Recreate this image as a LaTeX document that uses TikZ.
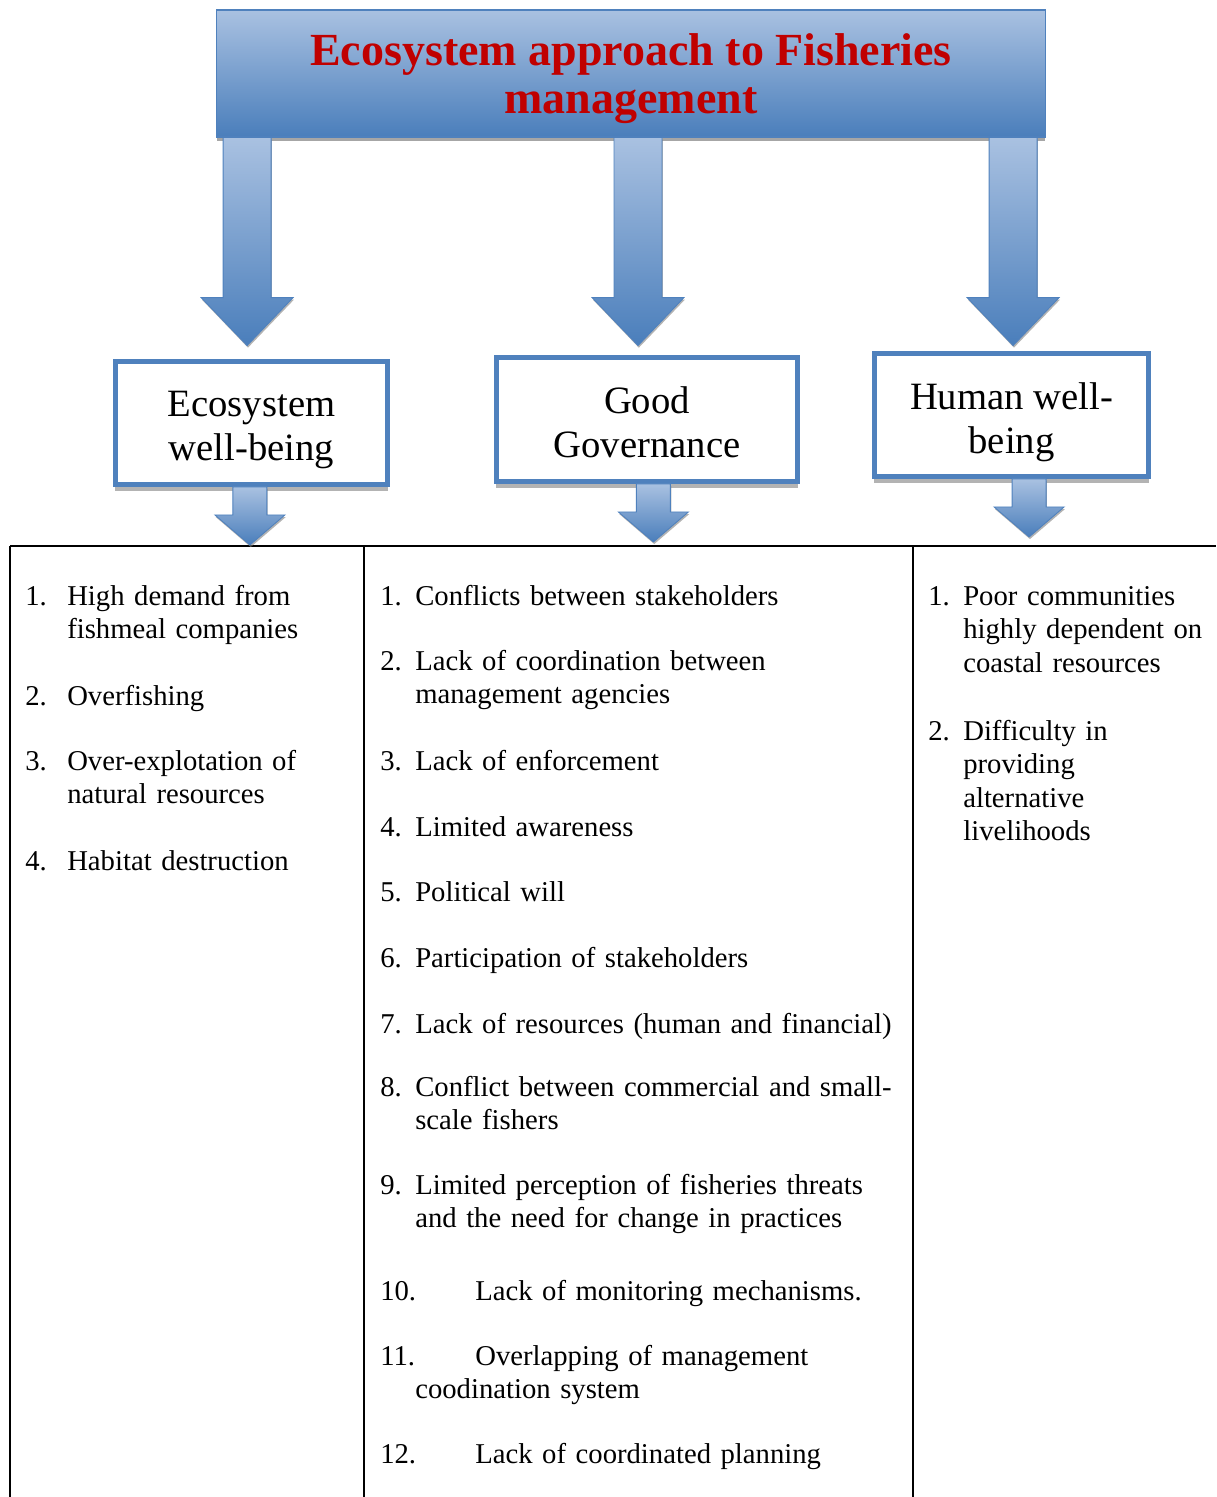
\documentclass[tikz,border=0pt]{standalone}
\usepackage{fontspec}
\setmainfont{Liberation Serif}
\usetikzlibrary{shadows}
\usetikzlibrary{positioning}
\definecolor{boxblue}{RGB}{79,129,189}
\definecolor{lightblue}{RGB}{169,193,225}
\definecolor{darkblue}{RGB}{74,126,187}
\definecolor{titlered}{RGB}{192,0,0}
\tikzset{
  titlebox/.style={rectangle, draw=boxblue, line width=0.8pt, top color=lightblue, bottom color=darkblue, minimum width=20.7cm, minimum height=3.175cm, align=center, text=titlered, font=\bfseries\fontsize{32.7}{34.7}\selectfont, drop shadow={shadow xshift=0pt, shadow yshift=-2.5pt, fill=black!50, opacity=.7}},
  headbox/.style={rectangle, draw=boxblue, line width=3.5pt, fill=white, minimum width=6.8cm, minimum height=3.075cm, align=center, font=\fontsize{27.5}{31.2}\selectfont, drop shadow={shadow xshift=0pt, shadow yshift=-4.5pt, fill=black!50, opacity=.6}},
  blockarrow/.style={draw=boxblue, line width=0.6pt, top color=lightblue, bottom color=darkblue, drop shadow={shadow xshift=0.6pt, shadow yshift=-1.5pt, fill=black!50, opacity=.6}},
  item/.style={anchor=base west, inner sep=0pt, align=left, text width=13cm, font=\fontsize{20.4}{23.9}\selectfont},
  rule/.style={draw, line width=1.4pt},
  pics/bigarrow/.style={code={\path[blockarrow] (-24,0) -- (24,0) -- (24,160) -- (46,160) -- (0,208) -- (-46,160) -- (-24,160) -- cycle;}},
  pics/smallarrow/.style={code={\path[blockarrow] (-17,0) -- (17,0) -- (17,28) -- (35,28) -- (0,58) -- (-35,28) -- (-17,28) -- cycle;}}
  }

\begin{document}
\begin{tikzpicture}[x=0.025cm, y=-0.025cm]
	\useasboundingbox (0,0) rectangle (1216,1497);

	% Table frame
	\draw [rule] (10,546) -- (1216,546);
	\draw [rule] (10,546) -- (10,1497);
	\draw [rule] (364,546) -- (364,1497);
	\draw [rule] (913,546) -- (913,1497);

	% Nodes
	\node[titlebox] (title) at (631,73.5) {\rule{0pt}{1.05cm}Ecosystem approach to Fisheries\\management};
	\node[headbox] (eco) at (251.5,423) {\rule{0pt}{0.98cm}Ecosystem\\well-being};
	\node[headbox, minimum width=7.525cm, minimum height=3.1cm] (gov) at (647,419.5) {\rule{0pt}{0.8cm}Good\\Governance};
	\node[headbox, minimum width=6.85cm] (hum) at (1011.5,415) {\rule{0pt}{1.05cm}Human well-\\being};

	% Arrows
	\pic[xshift=-0.11cm] at (eco.north |- title.south) {bigarrow};
	\pic[xshift=-0.225cm] at (gov.north |- title.south) {bigarrow};
	\pic[xshift=0.04cm] at (hum.north |- title.south) {bigarrow};
	\pic[xshift=-0.04cm] at (eco.south) {smallarrow};
	\pic[xshift=0.16cm] at (gov.south) {smallarrow};
	\pic[xshift=0.44cm] at (hum.south) {smallarrow};

	% Ecosystem column
	\node[item] (e1) at (25,605) {\makebox[1.05cm][l]{1.}High demand from\\\hspace*{1.05cm}fishmeal companies};
	\node[item] (e2) at (25,705) {\makebox[1.05cm][l]{2.}Overfishing};
	\node[item] (e3) at (25,770) {\makebox[1.05cm][l]{3.}Over-explotation of\\\hspace*{1.05cm}natural resources};
	\node[item] (e4) at (25,870) {\makebox[1.05cm][l]{4.}Habitat destruction};

	% Governance column
	\node[item] (g1) at (380,605) {\makebox[0.875cm][l]{1.}Conflicts between stakeholders};
	\node[item] (g2) at (380,670) {\makebox[0.875cm][l]{2.}Lack of coordination between\\\hspace*{0.875cm}management agencies};
	\node[item] (g3) at (380,770) {\makebox[0.875cm][l]{3.}Lack of enforcement};
	\node[item] (g4) at (380,836) {\makebox[0.875cm][l]{4.}Limited awareness};
	\node[item] (g5) at (380,901) {\makebox[0.875cm][l]{5.}Political will};
	\node[item] (g6) at (380,967) {\makebox[0.875cm][l]{6.}Participation of stakeholders};
	\node[item] (g7) at (380,1033) {\makebox[0.875cm][l]{7.}Lack of resources (human and financial)};
	\node[item] (g8) at (380,1096) {\makebox[0.875cm][l]{8.}Conflict between commercial and small-\\\hspace*{0.875cm}scale fishers};
	\node[item] (g9) at (380,1194) {\makebox[0.875cm][l]{9.}Limited perception of fisheries threats\\\hspace*{0.875cm}and the need for change in practices};
	\node[item] (g10) at (380,1300) {\makebox[2.375cm][l]{10.}Lack of monitoring mechanisms.};
	\node[item] (g11) at (380,1365) {\makebox[2.375cm][l]{11.}Overlapping of management\\\hspace*{0.875cm}coodination system};
	\node[item] (g12) at (380,1463) {\makebox[2.375cm][l]{12.}Lack of coordinated planning};

	% Human column
	\node[item] (h1) at (928,605) {\makebox[0.875cm][l]{1.}Poor communities\\\hspace*{0.875cm}highly dependent on\\\hspace*{0.875cm}coastal resources};
	\node[item] (h2) at (928,740) {\makebox[0.875cm][l]{2.}Difficulty in\\\hspace*{0.875cm}providing\\\hspace*{0.875cm}alternative\\\hspace*{0.875cm}livelihoods};
\end{tikzpicture}
\end{document}
